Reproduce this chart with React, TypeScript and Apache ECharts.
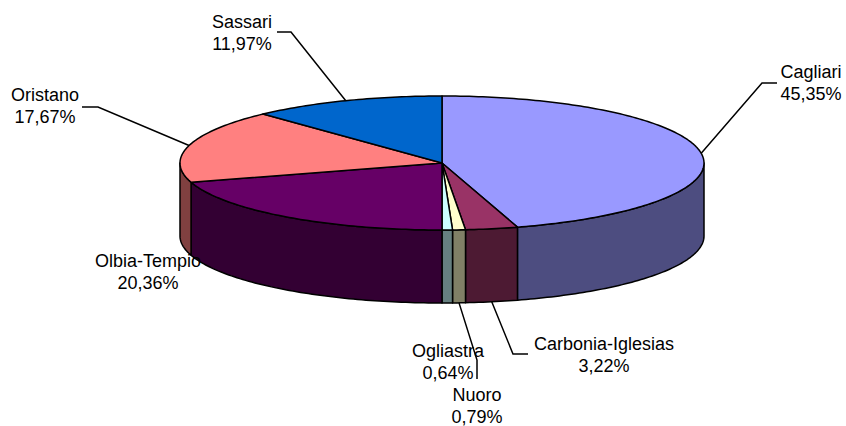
import React, { useEffect, useRef } from "react";
import * as echarts from "echarts";

// ---- data ----
const categories = [
  "Cagliari",
  "Carbonia-Iglesias",
  "Nuoro",
  "Ogliastra",
  "Olbia-Tempio",
  "Oristano",
  "Sassari",
];
const shares = [45.35, 3.22, 0.79, 0.64, 20.36, 17.67, 11.97];

// ---- styles ----
const topColors = ["#9999FF", "#993366", "#FFFFCC", "#CCFFFF", "#660066", "#FF8080", "#0066CC"];
const sideColors = ["#4D4D80", "#4D1A33", "#808066", "#668080", "#330033", "#804040", "#003366"];

// ---- layout ----
const PIE = { cx: 442, cy: 163, rx: 262, ry: 67, depth: 73 };
const labelLayout: { x: number; y: number; leader: number[][] | null }[] = [
  { x: 811, y: 82.5, leader: [[762, 83], [777, 83]] },
  { x: 604, y: 354.5, leader: [[513, 354], [528, 354]] },
  { x: 477, y: 406, leader: [[477, 360], [477, 379]] },
  { x: 448, y: 362, leader: null },
  { x: 148, y: 272, leader: null },
  { x: 45, y: 106, leader: [[98, 107], [82, 107]] },
  { x: 242, y: 32.5, leader: [[291, 32], [277, 32]] },
];

const formatPct = (v: number) => v.toFixed(2).replace(".", ",") + "%";

const total = shares.reduce((a, b) => a + b, 0);
function sliceAngles(i: number) {
  let acc = 0;
  for (let k = 0; k < i; k++) acc += shares[k];
  const s = (acc / total) * 360;
  const e = ((acc + shares[i]) / total) * 360;
  return [s, e];
}
function pt(theta: number, dy = 0): number[] {
  const r = (theta * Math.PI) / 180;
  return [PIE.cx + PIE.rx * Math.sin(r), PIE.cy - PIE.ry * Math.cos(r) + dy];
}
function arc(a0: number, a1: number, dy: number): number[][] {
  const n = Math.max(2, Math.ceil((a1 - a0) / 1));
  const out: number[][] = [];
  for (let k = 0; k <= n; k++) out.push(pt(a0 + ((a1 - a0) * k) / n, dy));
  return out;
}

export default function App() {
  const ref = useRef<HTMLDivElement>(null);
  useEffect(() => {
    if (!ref.current) return;
    const chart = echarts.init(ref.current, undefined, { renderer: "svg" });
    const data = shares.map((v, i) => ({ name: categories[i], value: [v] }));
    const edge = { stroke: "#000", lineWidth: 1.5, lineJoin: "round" as const };
    chart.setOption({
      animation: false,
      backgroundColor: "#ffffff",
      series: [
        {
          type: "custom",
          coordinateSystem: "none",
          silent: true,
          z: 2,
          data,
          renderItem: (params: any) => {
            const i = params.dataIndex;
            const [s, e] = sliceAngles(i);
            const children: any[] = [];
            const a0 = Math.max(s, 90);
            const a1 = Math.min(e, 270);
            if (a1 > a0) {
              const pts = arc(a0, a1, 0).concat(arc(a0, a1, PIE.depth).reverse());
              children.push({
                type: "polygon",
                shape: { points: pts },
                style: { fill: sideColors[i], ...edge },
              });
            }
            children.push({
              type: "polygon",
              shape: { points: [[PIE.cx, PIE.cy], ...arc(s, e, 0)] },
              style: { fill: topColors[i], ...edge },
            });
            return { type: "group", children };
          },
        },
        {
          type: "custom",
          coordinateSystem: "none",
          silent: true,
          z: 3,
          data,
          renderItem: (params: any) => {
            const i = params.dataIndex;
            const [s, e] = sliceAngles(i);
            const m = (s + e) / 2;
            const front = Math.cos((m * Math.PI) / 180) < 0;
            const anchor = pt(m, front ? PIE.depth : 0);
            const lay = labelLayout[i];
            const children: any[] = [];
            if (lay.leader) {
              children.push({
                type: "polyline",
                shape: { points: [anchor, ...lay.leader] },
                style: { stroke: "#000", lineWidth: 1.5, fill: null },
              });
            }
            children.push({
              type: "text",
              x: lay.x,
              y: lay.y,
              style: {
                text: categories[i] + "\n" + formatPct(shares[i]),
                fill: "#000",
                fontSize: 18,
                fontFamily: "'Liberation Sans', Arial, sans-serif",
                align: "center",
                verticalAlign: "middle",
                lineHeight: 22,
              },
            });
            return { type: "group", children };
          },
        },
      ],
    });
    return () => chart.dispose();
  }, []);
  return (
    <div
      ref={ref}
      style={{ position: "fixed", left: 0, top: 0, width: 846, height: 426, background: "#fff" }}
    />
  );
}
